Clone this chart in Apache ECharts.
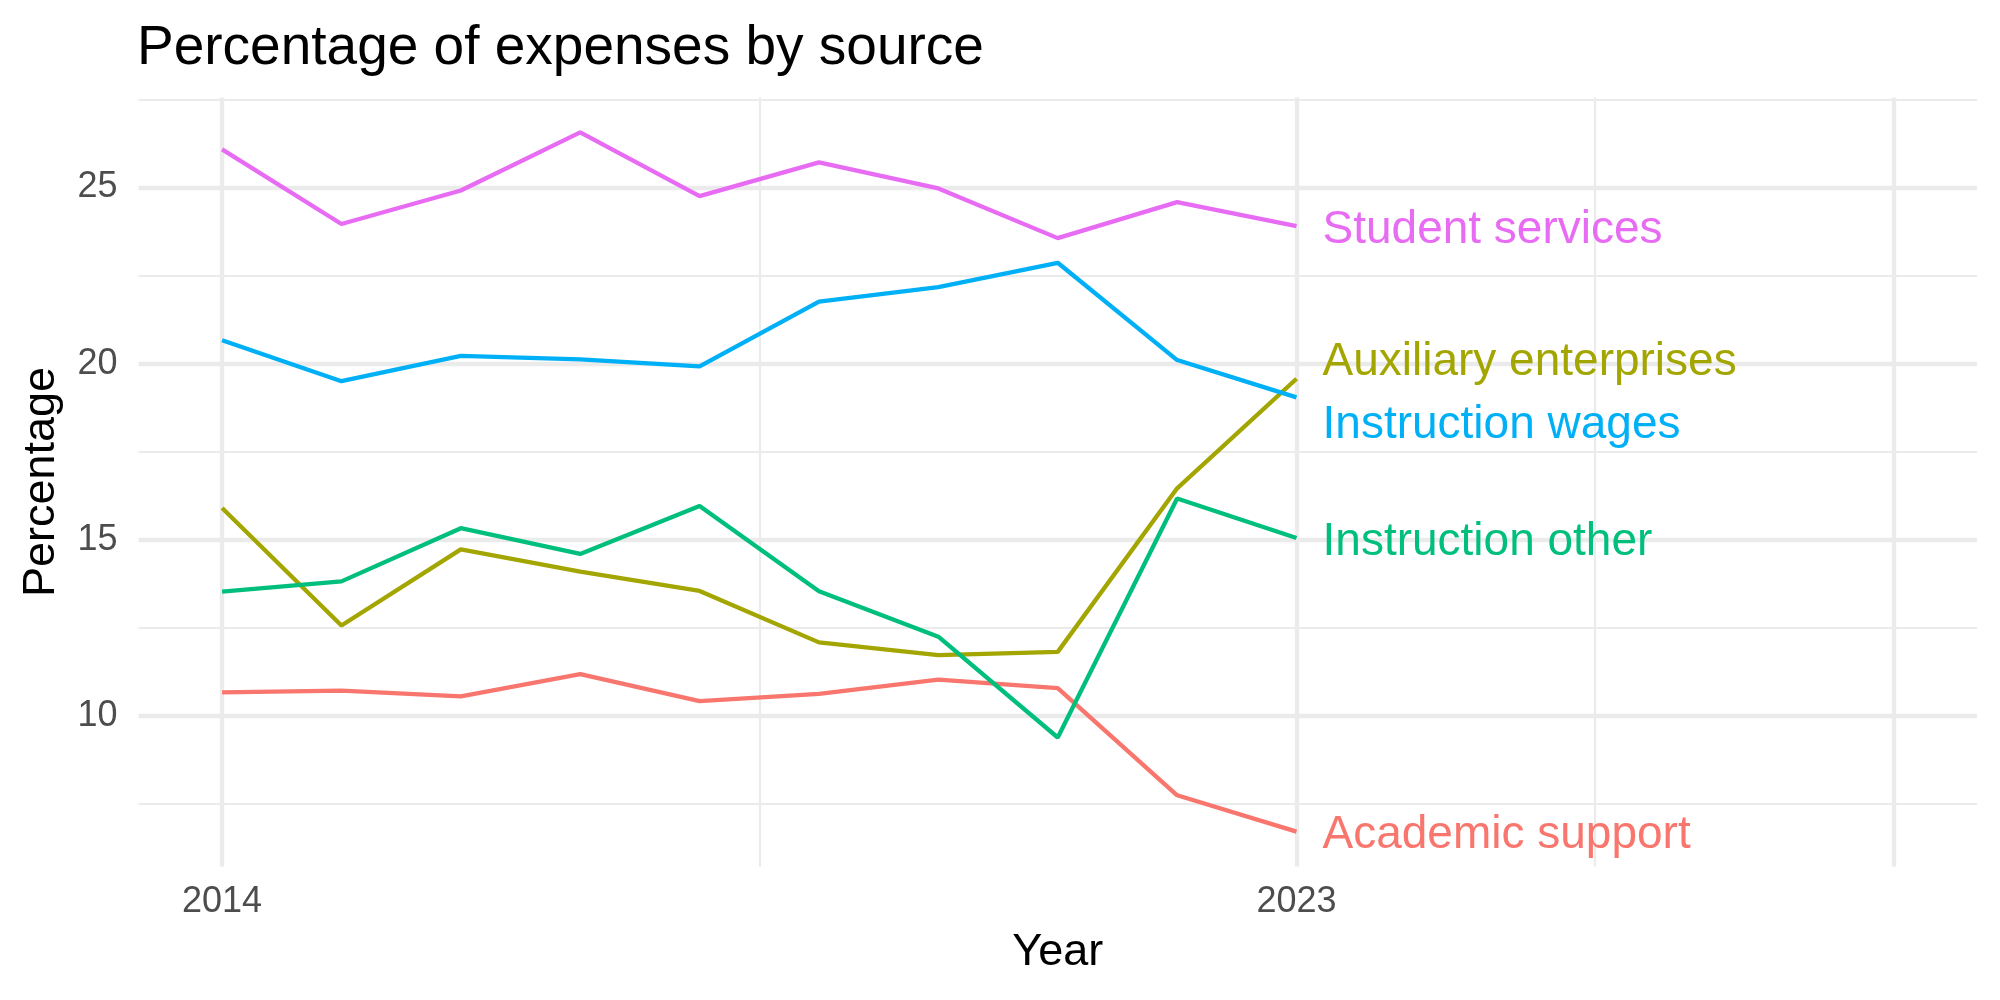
<!DOCTYPE html>
<html>
<head>
<meta charset="utf-8">
<script src="https://cdn.jsdelivr.net/npm/echarts@6/dist/echarts.min.js"></script>
<style>
  html, body { margin: 0; padding: 0; background: #ffffff; }
  #chart { width: 2000px; height: 1000px; }
</style>
</head>
<body>
<div id="chart"></div>
<script>
// ---- Data ----
const years = [2014, 2015, 2016, 2017, 2018, 2019, 2020, 2021, 2022, 2023];
const academicSupport      = [10.67, 10.72, 10.56, 11.19, 10.42, 10.63, 11.03, 10.79, 7.75, 6.72];
const auxiliaryEnterprises = [15.90, 12.57, 14.73, 14.10, 13.55, 12.09, 11.73, 11.82, 16.46, 19.57];
const instructionOther     = [13.53, 13.82, 15.33, 14.60, 15.96, 13.54, 12.25, 9.39, 16.17, 15.05];
const instructionWages     = [20.66, 19.50, 20.22, 20.12, 19.92, 21.76, 22.17, 22.86, 20.10, 19.04];
const studentServices      = [26.08, 23.96, 24.91, 26.56, 24.75, 25.71, 24.97, 23.56, 24.58, 23.90];

const seriesNames = ["Academic support", "Auxiliary enterprises", "Instruction other", "Instruction wages", "Student services"];
const xTickLabels = [2014, 2023];
const yTickLabels = [10, 15, 20, 25];
const xMajorGrid = [2014, 2023, 2028];
const xMinorGrid = [2018.5, 2025.5];
const yMajorGrid = [10, 15, 20, 25];
const yMinorGrid = [7.5, 12.5, 17.5, 22.5, 27.5];

// ---- Styling ----
const colors = ["#F8766D", "#A3A500", "#00BF7D", "#00B0F6", "#E76BF3"];
const labelOffsets = [4, -16, 4, 28, 4];
const FONT = "Liberation Sans, Arial, Helvetica, sans-serif";
const GRID_COLOR = "#EBEBEB";

const values = [academicSupport, auxiliaryEnterprises, instructionOther, instructionWages, studentServices];

const gridLineData = []
  .concat(xMajorGrid.map(v => ({ xAxis: v, lineStyle: { color: GRID_COLOR, width: 4.3, type: "solid" } })))
  .concat(xMinorGrid.map(v => ({ xAxis: v, lineStyle: { color: GRID_COLOR, width: 2.2, type: "solid" } })))
  .concat(yMajorGrid.map(v => ({ yAxis: v, lineStyle: { color: GRID_COLOR, width: 4.3, type: "solid" } })))
  .concat(yMinorGrid.map(v => ({ yAxis: v, lineStyle: { color: GRID_COLOR, width: 2.2, type: "solid" } })));

const dataSeries = seriesNames.map((name, i) => ({
  name: name,
  type: "line",
  z: 10,
  data: years.map((y, j) => [y, values[i][j]]),
  showSymbol: false,
  symbol: "none",
  lineStyle: { color: colors[i], width: 4.3 },
  itemStyle: { color: colors[i] },
  emphasis: { disabled: true },
  endLabel: {
    show: true,
    formatter: name,
    color: colors[i],
    fontSize: 46,
    fontFamily: FONT,
    distance: 26,
    offset: [0, labelOffsets[i]]
  }
}));

const option = {
  animation: false,
  backgroundColor: "#ffffff",
  title: {
    text: "Percentage of expenses by source",
    left: 132,
    top: 16,
    textStyle: { fontSize: 55, fontWeight: "normal", color: "#000000", fontFamily: FONT }
  },
  grid: { left: 138.5, right: 23, top: 97.5, bottom: 133.5, containLabel: false },
  xAxis: {
    type: "value",
    min: 2013.3,
    max: 2028.7,
    name: "Year",
    nameLocation: "middle",
    nameGap: 64,
    nameTextStyle: { fontSize: 45, color: "#000000", fontFamily: FONT },
    axisLine: { show: false },
    axisTick: { show: false },
    splitLine: { show: false },
    axisLabel: {
      customValues: xTickLabels,
      formatter: v => String(v),
      fontSize: 36,
      color: "#4D4D4D",
      fontFamily: FONT,
      margin: 18
    }
  },
  yAxis: {
    type: "value",
    min: 5.73,
    max: 27.55,
    name: "Percentage",
    nameLocation: "middle",
    nameRotate: 90,
    nameGap: 74,
    nameTextStyle: { fontSize: 45, color: "#000000", fontFamily: FONT },
    axisLine: { show: false },
    axisTick: { show: false },
    splitLine: { show: false },
    axisLabel: {
      customValues: yTickLabels,
      formatter: v => String(v),
      fontSize: 36,
      color: "#4D4D4D",
      fontFamily: FONT,
      margin: 21
    }
  },
  series: [
    {
      name: "grid",
      type: "line",
      z: 1,
      data: [],
      silent: true,
      markLine: {
        silent: true,
        z: 1,
        symbol: ["none", "none"],
        label: { show: false },
        animation: false,
        data: gridLineData
      }
    }
  ].concat(dataSeries)
};

const chart = echarts.init(document.getElementById("chart"), null, { renderer: "canvas" });
chart.setOption(option);
</script>
</body>
</html>
